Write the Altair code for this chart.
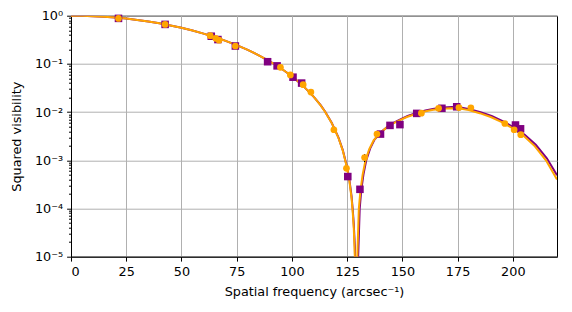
import altair as alt
import pandas as pd

# ---- model curves ----
orange_curve_x = [0, 5, 10, 15, 20, 25, 30, 35, 40, 45, 50, 55, 60, 65, 70, 75, 80, 85, 90, 95,
                  100, 105, 110, 113, 115, 118, 121, 123, 125, 126, 127, 127.5, 128, 128.5, 129,
                  129.6, 130.3, 131, 132, 133.3, 135, 137, 140, 144, 148, 152, 156, 160, 164,
                  168, 172, 176, 180, 185, 190, 195, 200, 205, 210, 215, 220]
orange_curve_v2 = [1.0, 0.9945, 0.978, 0.951, 0.915, 0.870, 0.817, 0.758, 0.695, 0.628, 0.560,
                   0.491, 0.425, 0.361, 0.301, 0.245, 0.195, 0.151, 0.113, 0.0813,
                   0.0556, 0.0354, 0.0205, 0.0138, 0.0102, 0.00596, 0.00297, 0.00161, 6.82e-4,
                   3.76e-4, 1.65e-4, 8.8e-5, 3.9e-5, 9.7e-6, 1e-8,
                   1e-5, 1e-4, 2.3e-4, 5e-4, 1.0e-3, 1.7e-3, 2.6e-3, 3.7e-3, 5.3e-3, 6.5e-3,
                   7.9e-3, 9.1e-3, 1.03e-2, 1.12e-2, 1.18e-2, 1.2e-2, 1.19e-2, 1.1e-2, 9.5e-3,
                   7.9e-3, 6.2e-3, 4.6e-3, 3.2e-3, 1.95e-3, 1.0e-3, 4.0e-4]

purple_curve_x = [0, 5, 10, 15, 20, 25, 30, 35, 40, 45, 50, 55, 60, 65, 70, 75, 80, 85, 90, 95,
                  100, 105, 110, 113, 115, 118, 121, 123, 125, 126, 127, 127.5, 128, 128.5, 129.4,
                  130.0, 130.7, 131.4, 132.4, 133.7, 135.4, 137.4, 140.4, 144.4, 148.4, 152.4,
                  156.4, 160.4, 164.4, 168.4, 172.4, 176.4, 180.4, 185.4, 190.4, 195.4, 200.4,
                  205.4, 210.4, 215.4, 220]
purple_curve_v2 = [1.0, 0.9945, 0.978, 0.951, 0.915, 0.870, 0.817, 0.758, 0.695, 0.628, 0.560,
                   0.491, 0.425, 0.361, 0.301, 0.245, 0.195, 0.151, 0.113, 0.0813,
                   0.0556, 0.0354, 0.0205, 0.0139, 0.0103, 0.00601, 0.00302, 0.00165, 7.1e-4,
                   4.0e-4, 1.8e-4, 1.0e-4, 4.8e-5, 1.6e-5, 1e-8,
                   1e-5, 1e-4, 2.4e-4, 5.1e-4, 1.02e-3, 1.75e-3, 2.7e-3, 3.85e-3, 5.5e-3, 6.8e-3,
                   8.3e-3, 9.6e-3, 1.08e-2, 1.18e-2, 1.25e-2, 1.27e-2, 1.25e-2, 1.15e-2, 9.9e-3,
                   8.3e-3, 6.5e-3, 4.85e-3, 3.4e-3, 2.1e-3, 1.1e-3, 4.9e-4]

# ---- measured points ----
purple_pts_x = [21.5, 42.6, 63.5, 66.5, 74.4, 89.0, 93.3, 100.5, 104.4, 125.3, 130.8,
                140.1, 144.4, 148.9, 156.5, 167.9, 174.6, 201.2, 203.5]
purple_pts_v2 = [0.88, 0.66, 0.375, 0.32, 0.235, 0.111, 0.091, 0.053, 0.040, 4.6e-4, 2.5e-4,
                 3.5e-3, 5.3e-3, 5.5e-3, 9.4e-3, 0.0120, 0.0129, 5.4e-3, 4.5e-3]

orange_pts_x = [21.5, 42.6, 63.0, 65.5, 67.0, 74.4, 94.8, 99.3, 105.1, 108.6, 119.0, 124.7,
                132.9, 138.5, 158.6, 166.4, 175.6, 181.0, 196.4, 200.6, 203.6]
orange_pts_v2 = [0.88, 0.66, 0.385, 0.34, 0.31, 0.235, 0.085, 0.059, 0.037, 0.026, 4.3e-3,
                 6.8e-4, 1.14e-3, 3.5e-3, 9.5e-3, 0.0120, 0.0124, 0.0123, 5.8e-3, 4.3e-3, 3.4e-3]

err_x = [132.9]
err_lo = [9.2e-4]
err_hi = [1.35e-3]

x_ticks = [0, 25, 50, 75, 100, 125, 150, 175, 200]
y_major = [1e-5, 1e-4, 1e-3, 1e-2, 1e-1, 1]
y_minor = [k * 10.0 ** e for e in range(-5, 0) for k in range(2, 10)]
y_labels = ["10⁰", "10⁻¹", "10⁻²", "10⁻³", "10⁻⁴", "10⁻⁵"]

PURPLE = "#800080"
ORANGE = "#FFA500"

oc = pd.DataFrame({"x": orange_curve_x, "y": orange_curve_v2})
pc = pd.DataFrame({"x": purple_curve_x, "y": purple_curve_v2})
op = pd.DataFrame({"x": orange_pts_x, "y": orange_pts_v2})
pp = pd.DataFrame({"x": purple_pts_x, "y": purple_pts_v2})
eb = pd.DataFrame({"x": err_x, "lo": err_lo, "hi": err_hi})

major_test = "abs(log(datum.value)/LN10 - round(log(datum.value)/LN10)) < 1e-6"
label_arr = "[" + ",".join("'%s'" % s for s in y_labels) + "]"
label_expr = ("%s ? %s[round(-log(datum.value)/LN10)] : ''" % (major_test, label_arr))

x_enc = alt.X("x:Q",
              scale=alt.Scale(domain=[0, 220], nice=False, zero=False),
              axis=alt.Axis(values=x_ticks, title="Spatial frequency (arcsec⁻¹)",
                            format="d", tickSize=4.4, labelPadding=4, titlePadding=8))
y_axis = alt.Axis(values=y_major + y_minor, title="Squared visibility",
                  labelExpr=label_expr, labelPadding=4, titlePadding=11,
                  tickSize={"condition": {"test": major_test, "value": 4.4}, "value": 2.5},
                  gridOpacity={"condition": {"test": major_test, "value": 1}, "value": 0})
y_scale = alt.Scale(type="log", domain=[1e-5, 1], nice=False)
y_enc = alt.Y("y:Q", scale=y_scale, axis=y_axis)

l_pc = alt.Chart(pc).mark_line(color=PURPLE, strokeWidth=2, clip=True).encode(x=x_enc, y=y_enc)
l_oc = alt.Chart(oc).mark_line(color=ORANGE, strokeWidth=2, clip=True).encode(x=x_enc, y=y_enc)
l_eb = alt.Chart(eb).mark_rule(color="black", strokeWidth=1.2).encode(
    x=x_enc, y=alt.Y("lo:Q", scale=y_scale, axis=y_axis), y2="hi:Q")
l_pp = alt.Chart(pp).mark_point(shape="square", filled=True, size=57, color=PURPLE,
                                opacity=1).encode(x=x_enc, y=y_enc)
l_op = alt.Chart(op).mark_point(shape="circle", filled=True, size=45, color=ORANGE,
                                opacity=1).encode(x=x_enc, y=y_enc)

chart = alt.layer(l_pc, l_oc, l_eb, l_pp, l_op).properties(
    width=486, height=241,
    autosize=alt.AutoSizeParams(type="none"),
    padding={"left": 63, "top": 7.7, "right": 7, "bottom": 47.3},
).configure(font="DejaVu Sans").configure_axis(
    labelFont="DejaVu Sans", titleFont="DejaVu Sans",
    labelFontSize=12.8, titleFontSize=12.8, titleFontWeight="normal",
    labelColor="black", titleColor="black",
    domainColor="black", domainWidth=1, tickColor="black", tickWidth=1,
    gridColor="#b0b0b0", gridWidth=1,
).configure_view(stroke="black", strokeWidth=1)

chart.save("out.html", embed_options={"renderer": "svg", "actions": False})
